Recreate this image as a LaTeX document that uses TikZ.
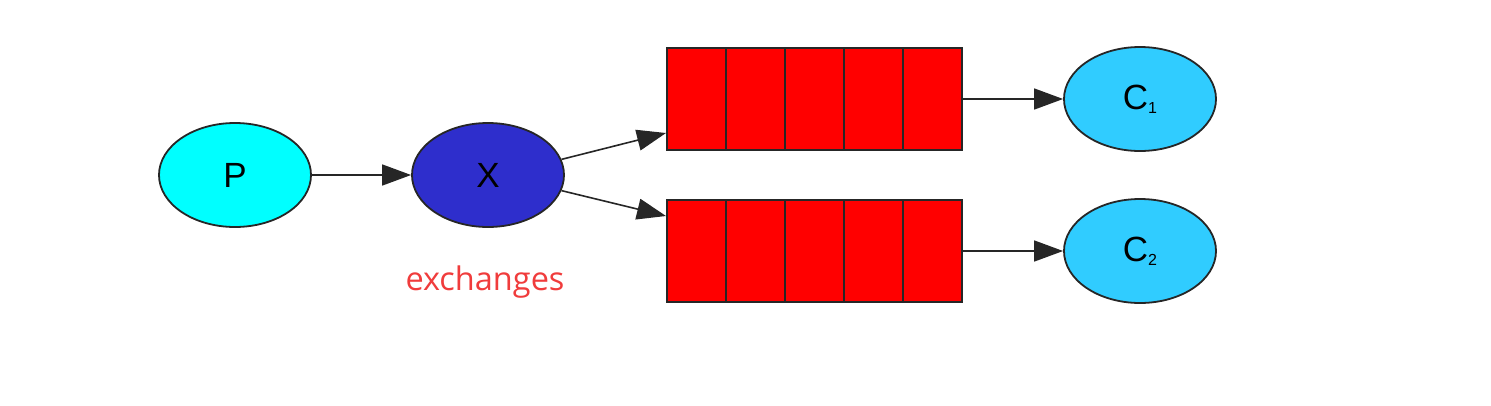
\documentclass[tikz,border=0pt]{standalone}
\usepackage{fontspec}
\setmainfont{Liberation Sans}
\newfontfamily\exfont{Open Sans}
\usetikzlibrary{arrows.meta,shapes.geometric}
\definecolor{pcyan}{HTML}{00FFFF}
\definecolor{xblue}{HTML}{2E2ECC}
\definecolor{ccyan}{HTML}{30CCFF}
\definecolor{qred}{HTML}{FF0000}
\definecolor{exred}{HTML}{F03C3C}
\begin{document}
\begin{tikzpicture}[x=1pt,y=-1pt,
  ell/.style={ellipse, draw=black!85, line width=1.8pt, minimum width=152pt, minimum height=104pt, inner sep=0pt, font=\fontsize{35}{37}\selectfont},
  qcell/.style={rectangle, draw=black!85, fill=qred, line width=2pt, minimum width=59pt, minimum height=102pt, inner sep=0pt},
  conn/.style={draw=black!85, line width=1.6pt, -{Triangle[length=29pt,width=21pt]}}
]
\useasboundingbox (0,0) rectangle (1491,405);
\node[ell, fill=pcyan] (P) at (235,175) {P};
\node[ell, fill=xblue] (X) at (488,175) {X};
\node[ell, fill=ccyan] (C1) at (1140,99) {C\raisebox{-4pt}{\fontsize{16}{16}\selectfont 1}};
\node[ell, fill=ccyan] (C2) at (1140,251) {C\raisebox{-4pt}{\fontsize{16}{16}\selectfont 2}};
\foreach \i in {0,...,4} {
  \node[qcell] (a\i) at ({696.5+59*\i},99) {};
  \node[qcell] (b\i) at ({696.5+59*\i},251) {};
}
\node[font=\exfont\fontsize{32.5}{34}\selectfont, text=exred] (ex) at (485,282) {exchanges};
\draw[conn] (P) -- (X);
\draw[conn] (X.12) -- (a0.west |- 0,133);
\draw[conn] (X.-12) -- (b0.west |- 0,216);
\draw[conn] (a4.east) -- (C1);
\draw[conn] (b4.east) -- (C2);
\end{tikzpicture}
\end{document}
